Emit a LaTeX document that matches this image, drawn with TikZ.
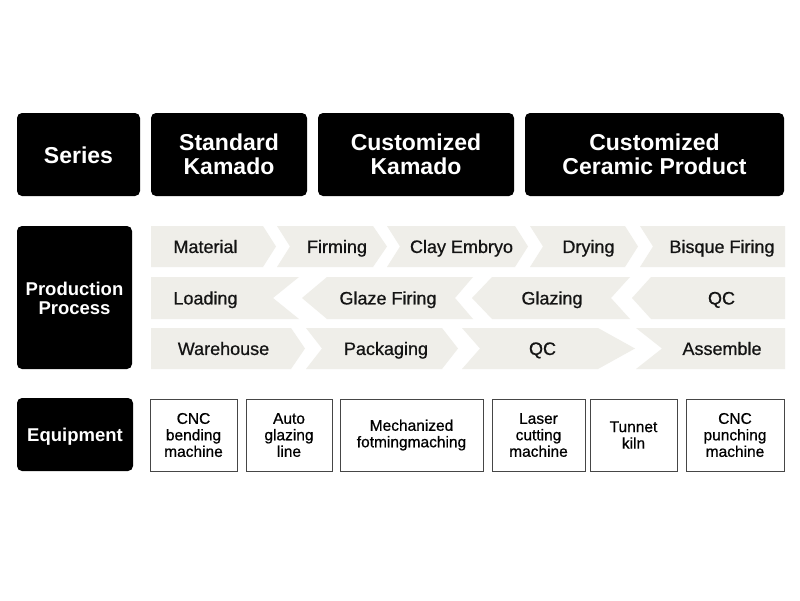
\documentclass[tikz,border=0pt]{standalone}
\usepackage{fontspec}
\setmainfont{Liberation Sans}
\newfontfamily\medfont[FakeBold=0.7]{Liberation Sans}
\definecolor{procfill}{RGB}{239,238,233}
\definecolor{eqborder}{RGB}{70,70,70}
\definecolor{txtdark}{RGB}{20,20,20}
\begin{document}
\begin{tikzpicture}[x=1pt,y=-1pt,
  blackbox/.style={fill=black,rounded corners=5pt},
  headtxt/.style={text=white,font=\bfseries\fontsize{23}{24}\selectfont,align=center,inner sep=0pt},
  sidetxt/.style={text=white,font=\bfseries\fontsize{18.5}{19}\selectfont,align=center,inner sep=0pt},
  proc/.style={fill=procfill},
  proctxt/.style={text=txtdark,font=\medfont\fontsize{18}{20}\selectfont,inner sep=0pt,text height=12.9pt,text depth=0pt},
  eqbox/.style={draw=eqborder,line width=0.9pt,fill=white},
  eqtxt/.style={text=black,font=\medfont\fontsize{15.5}{16.5}\selectfont,align=center,inner sep=0pt}]
\useasboundingbox (0,0) rectangle (800,600);
\fill[white] (0,0) rectangle (800,600);

% header row
\fill[blackbox] (17,113) rectangle (140,196);
\node[headtxt,text height=16.5pt,text depth=0pt] (series) at (78.5,155) {Series};
\fill[blackbox] (151,113) rectangle (307,196);
\node[headtxt] (std) at (229,154.5) {Standard\\Kamado};
\fill[blackbox] (318,113) rectangle (514,196);
\node[headtxt] (cust) at (416,154.5) {Customized\\Kamado};
\fill[blackbox] (525,113) rectangle (784,196);
\node[headtxt] (cer) at (654.5,154.5) {Customized\\Ceramic Product};

% production process label
\fill[blackbox] (17,226) rectangle (132,369);
\node[sidetxt] (prod) at (74.5,298) {Production\\Process};

% row 1
\fill[proc] (151,226) -- (263,226) -- (276,246.5) -- (263,267) -- (151,267) -- cycle;
\fill[proc] (277,226) -- (373,226) -- (387,246.5) -- (373,267) -- (277,267) -- (290,246.5) -- cycle;
\fill[proc] (387,226) -- (515,226) -- (528,246.5) -- (515,267) -- (387,267) -- (400,246.5) -- cycle;
\fill[proc] (530,226) -- (625,226) -- (638,246.5) -- (625,267) -- (530,267) -- (543,246.5) -- cycle;
\fill[proc] (640,226) -- (785,226) -- (785,267) -- (640,267) -- (653,246.5) -- cycle;
\node[proctxt] (p1) at (205.5,246.5) {Material};
\node[proctxt] (p2) at (337,246.5) {Firming};
\node[proctxt] (p3) at (461.5,246.5) {Clay Embryo};
\node[proctxt] (p4) at (588.5,246.5) {Drying};
\node[proctxt] (p5) at (722,246.5) {Bisque Firing};

% row 2
\fill[proc] (151,277) -- (299,277) -- (273,298) -- (299,319) -- (151,319) -- cycle;
\fill[proc] (327,277) -- (473,277) -- (455,298) -- (473,319) -- (327,319) -- (302,298) -- cycle;
\fill[proc] (492,277) -- (630,277) -- (611,298) -- (630,319) -- (492,319) -- (472,298) -- cycle;
\fill[proc] (651,277) -- (785,277) -- (785,319) -- (651,319) -- (632,298) -- cycle;
\node[proctxt] (q1) at (205.5,298) {Loading};
\node[proctxt] (q2) at (388,298) {Glaze Firing};
\node[proctxt] (q3) at (552,298) {Glazing};
\node[proctxt] (q4) at (721.5,298) {QC};

% row 3
\fill[proc] (151,328) -- (291,328) -- (305,348.5) -- (291,369) -- (151,369) -- cycle;
\fill[proc] (306,328) -- (442,328) -- (458,348.5) -- (442,369) -- (306,369) -- (322,348.5) -- cycle;
\fill[proc] (462,328) -- (598,328) -- (635,348.5) -- (598,369) -- (462,369) -- (480,348.5) -- cycle;
\fill[proc] (636,328) -- (785,328) -- (785,369) -- (636,369) -- (662,348.5) -- cycle;
\node[proctxt] (r1) at (223.5,348.5) {Warehouse};
\node[proctxt] (r2) at (386,348.5) {Packaging};
\node[proctxt] (r3) at (542.5,348.5) {QC};
\node[proctxt] (r4) at (722,348.5) {Assemble};

% equipment
\fill[blackbox] (17,398) rectangle (133,471);
\node[sidetxt,text height=13.3pt,text depth=0pt] (equip) at (75,435) {Equipment};
\draw[eqbox] (150,399) rectangle (237,471);
\node[eqtxt] (e1) at (193.5,435) {CNC\\bending\\machine};
\draw[eqbox] (246,399) rectangle (332,471);
\node[eqtxt] (e2) at (289,435) {Auto\\glazing\\line};
\draw[eqbox] (340,399) rectangle (483,471);
\node[eqtxt] (e3) at (411.5,435) {Mechanized\\fotmingmaching};
\draw[eqbox] (492,399) rectangle (585,471);
\node[eqtxt] (e4) at (538.5,435) {Laser\\cutting\\machine};
\draw[eqbox] (590,399) rectangle (677,471);
\node[eqtxt] (e5) at (633.5,435) {Tunnet\\kiln};
\draw[eqbox] (686,399) rectangle (784,471);
\node[eqtxt] (e6) at (735,435) {CNC\\punching\\machine};
\end{tikzpicture}
\end{document}
